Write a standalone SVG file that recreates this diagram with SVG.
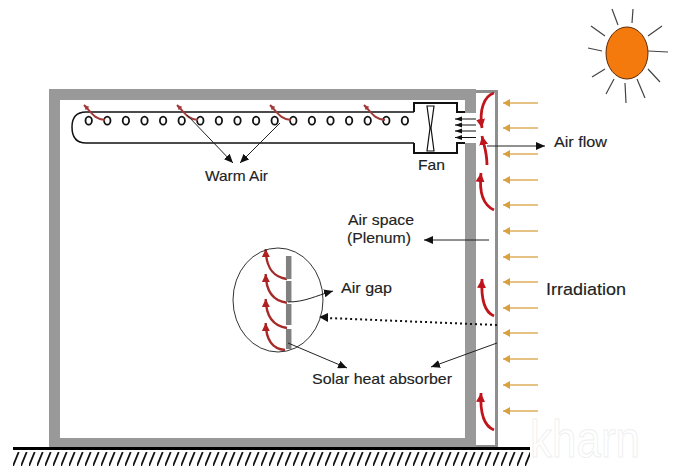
<svg xmlns="http://www.w3.org/2000/svg" width="680" height="475" viewBox="0 0 680 475">
<style>
text{font-family:"Liberation Sans",Arial,sans-serif;font-size:15px;fill:#222;stroke:#222;stroke-width:.15}
.k{fill:none;stroke:#222;stroke-width:1;marker-end:url(#mk)}
.f{fill:none;stroke:#111;stroke-width:1;marker-end:url(#mf)}
.o{fill:none;stroke:#dfae5c;stroke-width:1.3;marker-end:url(#mo)}
.r{fill:none;stroke:#c0141c;stroke-width:2.8;marker-end:url(#mr)}
.l{fill:none;stroke:#a62a2a;stroke-width:2.4;marker-end:url(#ml)}
.c{fill:none;stroke:#a33a3a;stroke-width:2;marker-end:url(#mc)}
.h{fill:#fff;stroke:#111;stroke-width:1.8}
.ray{stroke:#444;stroke-width:1.2}
</style>
<defs>
<marker id="mk" markerUnits="userSpaceOnUse" markerWidth="10" markerHeight="8" refX="9" refY="4" orient="auto"><path d="M0 0L9 4L0 8Z" fill="#111"/></marker>
<marker id="mf" markerUnits="userSpaceOnUse" markerWidth="8" markerHeight="6" refX="7" refY="2.5" orient="auto"><path d="M0 0L7 2.5L0 5Z" fill="#111"/></marker>
<marker id="mo" markerUnits="userSpaceOnUse" markerWidth="8" markerHeight="8" refX="7" refY="4" orient="auto"><path d="M0 0L7 4L0 8Z" fill="#d9a040"/></marker>
<marker id="mr" markerUnits="userSpaceOnUse" markerWidth="10" markerHeight="10" refX="9" refY="4.5" orient="auto"><path d="M0 0L9 4.5L0 9Z" fill="#c0141c"/></marker>
<marker id="ml" markerUnits="userSpaceOnUse" markerWidth="9" markerHeight="9" refX="8" refY="4" orient="auto"><path d="M0 0L8 4L0 8Z" fill="#b02020"/></marker>
<marker id="mc" markerUnits="userSpaceOnUse" markerWidth="6" markerHeight="6" refX="5" refY="2.5" orient="auto"><path d="M0 0L5 2.5L0 5Z" fill="#a33a3a"/></marker>
<pattern id="hatch" patternUnits="userSpaceOnUse" width="8" height="14" x="13" y="452"><path d="M0 14L5.7 0" stroke="#111" stroke-width="1.8"/></pattern>
</defs>
<rect width="680" height="475" fill="#fff"/>

<g id="watermark">
<text x="530" y="457" style="font-size:52px;fill:none;stroke:#efefef;stroke-width:1" textLength="110" lengthAdjust="spacingAndGlyphs">kharn</text>
</g>

<g id="building">
<path d="M49 89H476V447H49ZM60 100V438H465V100Z" fill="#999" fill-rule="evenodd"/>
<rect x="465" y="113" width="12" height="30" fill="#fff"/>
<path d="M476 90H498V448H476V445H495V93H476Z" fill="#8f8f8f"/>
</g>

<g id="ground">
<rect x="13" y="447" width="517" height="3" fill="#000"/>
<rect x="13" y="452" width="517" height="14" fill="url(#hatch)"/>
</g>

<g id="duct" fill="none" stroke="#111">
<path d="M414 112H86Q72 112 72 127Q72 143 86 143H414" stroke-width="1.5"/>
<path d="M414 112V103H457V112H465M414 143V153H457V143H465" stroke-width="2"/>
<path d="M427 106H434L431 128L434 151H427L430 128Z" stroke-width="1.2"/>
</g>

<g id="holes">
<ellipse class="h" cx="88.7" cy="120.7" rx="3.2" ry="4"/><ellipse class="h" cx="107.3" cy="120.7" rx="3.2" ry="4"/><ellipse class="h" cx="125.9" cy="120.7" rx="3.2" ry="4"/><ellipse class="h" cx="144.5" cy="120.7" rx="3.2" ry="4"/><ellipse class="h" cx="163.1" cy="120.7" rx="3.2" ry="4"/><ellipse class="h" cx="181.7" cy="120.7" rx="3.2" ry="4"/><ellipse class="h" cx="200.3" cy="120.7" rx="3.2" ry="4"/><ellipse class="h" cx="218.9" cy="120.7" rx="3.2" ry="4"/><ellipse class="h" cx="237.5" cy="120.7" rx="3.2" ry="4"/><ellipse class="h" cx="256.1" cy="120.7" rx="3.2" ry="4"/><ellipse class="h" cx="274.7" cy="120.7" rx="3.2" ry="4"/><ellipse class="h" cx="293.3" cy="120.7" rx="3.2" ry="4"/><ellipse class="h" cx="311.9" cy="120.7" rx="3.2" ry="4"/><ellipse class="h" cx="330.5" cy="120.7" rx="3.2" ry="4"/><ellipse class="h" cx="349.1" cy="120.7" rx="3.2" ry="4"/><ellipse class="h" cx="367.7" cy="120.7" rx="3.2" ry="4"/><ellipse class="h" cx="386.3" cy="120.7" rx="3.2" ry="4"/><ellipse class="h" cx="404.9" cy="120.7" rx="3.2" ry="4"/>
</g>

<g id="sun">
<ellipse cx="627" cy="53" rx="21" ry="26" fill="#f47a0e" stroke="#5a2a08" stroke-width="1"/>
<path class="ray" d="M612 9L618 25M633 9L632 23M662 26L648 36M668 52L648 51M660 82L648 69M645 98L637 79M626 103L625 83M606 94L614 79M592 77L605 69M588 48L602 51M591 26L605 36"/>
</g>

<g id="connectors">
<path class="c" d="M105 120C94 119 92 113 84 105"/>
<path class="c" d="M198 120C187 119 185 113 177 105"/>
<path class="c" d="M291 120C280 119 278 113 270 105"/>
<path class="c" d="M385 120C374 119 372 113 364 105"/>
<path class="k" d="M187 115L233 163"/>
<path class="k" d="M280 123L240 163"/>
<path class="f" d="M476 119H455"/>
<path class="f" d="M476 125H455"/>
<path class="f" d="M476 131H455"/>
<path class="f" d="M476 137.5H455"/>
<path class="k" d="M487 146H545"/>
<path class="k" d="M489 240H424"/>
<path class="o" d="M538 103H503"/><path class="o" d="M538 128H503"/><path class="o" d="M538 154H503"/><path class="o" d="M538 180H503"/><path class="o" d="M538 205H503"/><path class="o" d="M538 231H503"/><path class="o" d="M538 257H503"/><path class="o" d="M538 282H503"/><path class="o" d="M538 308H503"/><path class="o" d="M538 333H503"/><path class="o" d="M538 359H503"/><path class="o" d="M538 385H503"/><path class="o" d="M538 411H503"/>
<path class="r" d="M494 93C484 96 479 110 482 128"/>
<path class="r" d="M487 165C487 152 484 146 482 136"/>
<path class="r" d="M494 210C483 205 479 192 481 173"/>
<path class="r" d="M494 316C484 312 481 298 482 279"/>
<path class="r" d="M494 430C484 426 480 412 481 393"/>
<path class="l" d="M287 279C273 277 266 268 265.7 249"/>
<path class="l" d="M287 302.7C273 301 266 292 265.7 274"/>
<path class="l" d="M287 328C273 326 266 317 265.7 299"/>
<path class="l" d="M285 350C272 349 266 340 265.7 323"/>
<ellipse cx="278" cy="300" rx="45" ry="52" fill="none" stroke="#333" stroke-width="1"/>
<path d="M288.7 256V279M288.7 281V302M288.7 304V325M288.7 329V349" stroke="#808080" stroke-width="5.5" fill="none"/>
<path class="k" d="M288 302C305 302 315 296 333 291"/>
<path d="M497 325L327 318" fill="none" stroke="#111" stroke-width="2" stroke-dasharray="2 3"/>
<path d="M319 317L328 313L328 322Z" fill="#111"/>
<path class="k" d="M288 343L347 368"/>
<path class="k" d="M497 343L431 367"/>
</g>

<g id="labels">
<text x="205" y="181" textLength="63" lengthAdjust="spacingAndGlyphs">Warm Air</text>
<text x="418" y="170" textLength="27" lengthAdjust="spacingAndGlyphs">Fan</text>
<text x="554" y="147" textLength="53" lengthAdjust="spacingAndGlyphs">Air flow</text>
<text x="348" y="225" textLength="66" lengthAdjust="spacingAndGlyphs">Air space</text>
<text x="347" y="243" textLength="64" lengthAdjust="spacingAndGlyphs">(Plenum)</text>
<text x="341" y="293" textLength="51" lengthAdjust="spacingAndGlyphs">Air gap</text>
<text x="312" y="384" textLength="140" lengthAdjust="spacingAndGlyphs">Solar heat absorber</text>
<text x="546" y="295" textLength="80" lengthAdjust="spacingAndGlyphs" style="font-size:17px">Irradiation</text>
</g>
</svg>
